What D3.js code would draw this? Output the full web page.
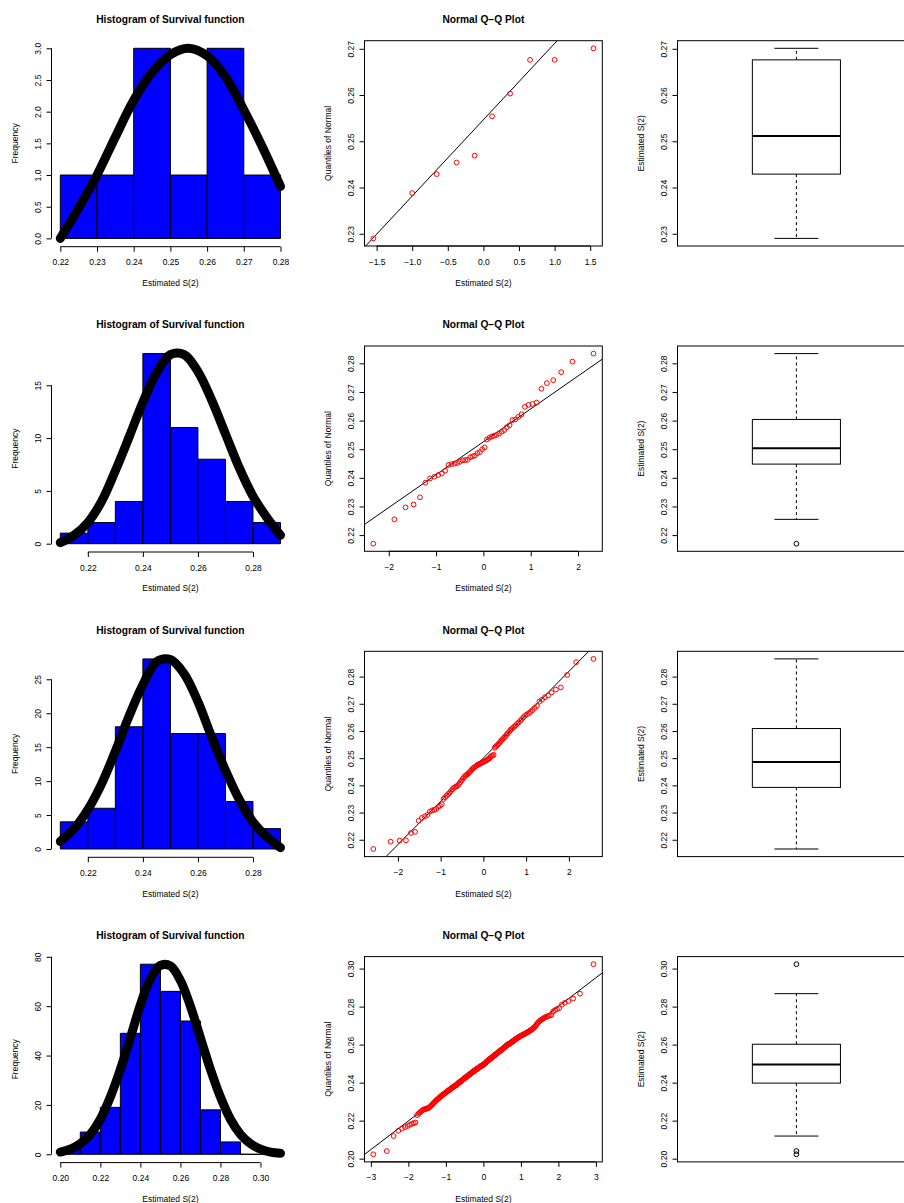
<!DOCTYPE html>
<html>
<head>
<meta charset="utf-8">
<script src="https://cdn.jsdelivr.net/npm/d3@7"></script>
<style>
  body { margin: 0; background: #fff; }
  text { font-family: "Liberation Sans", Arial, Helvetica, sans-serif; fill: #000; }
</style>
</head>
<body>
<div id="chart"></div>
<script>
// ---- data ----
// sorted samples (estimated S(2)), one per row: n = 10, 50, 100, 300
const sample10 = [0.2290, 0.2388, 0.2429, 0.2454, 0.2469, 0.2554, 0.2603, 0.2676, 0.2676, 0.2701];

const sample50 = [
  0.2170, 0.2255, 0.2297, 0.2307, 0.2332, 0.2383, 0.2398, 0.2404, 0.2410, 0.2415,
  0.2425, 0.2445, 0.2448, 0.2450, 0.2452, 0.2456, 0.2461, 0.2462, 0.2463, 0.2472,
  0.2475, 0.2478, 0.2486, 0.2490, 0.2500, 0.2506, 0.2534, 0.2540, 0.2544, 0.2547,
  0.2550, 0.2555, 0.2561, 0.2567, 0.2577, 0.2584, 0.2602, 0.2604, 0.2613, 0.2622,
  0.2648, 0.2655, 0.2658, 0.2663, 0.2711, 0.2731, 0.2741, 0.2769, 0.2806, 0.2834];

const sample100 = [
  0.2166, 0.2193, 0.2197, 0.2198, 0.2225, 0.2229, 0.2270, 0.2280, 0.2286, 0.2291,
  0.2303, 0.2308, 0.2310, 0.2313, 0.2321, 0.2325, 0.2331, 0.2350, 0.2356, 0.2362,
  0.2368, 0.2373, 0.2380, 0.2386, 0.2391, 0.2394, 0.2397, 0.2399, 0.2406, 0.2412,
  0.2418, 0.2424, 0.2430, 0.2435, 0.2438, 0.2441, 0.2445, 0.2449, 0.2454, 0.2459,
  0.2463, 0.2466, 0.2469, 0.2472, 0.2475, 0.2477, 0.2479, 0.2481, 0.2483, 0.2485,
  0.2487, 0.2489, 0.2491, 0.2494, 0.2497, 0.2499, 0.2505, 0.2508, 0.2510, 0.2512,
  0.2538, 0.2543, 0.2547, 0.2551, 0.2556, 0.2561, 0.2566, 0.2570, 0.2575, 0.2580,
  0.2586, 0.2591, 0.2596, 0.2603, 0.2607, 0.2611, 0.2616, 0.2621, 0.2626, 0.2631,
  0.2637, 0.2643, 0.2650, 0.2656, 0.2661, 0.2665, 0.2670, 0.2677, 0.2685, 0.2692,
  0.2708, 0.2715, 0.2724, 0.2730, 0.2742, 0.2752, 0.2760, 0.2806, 0.2853, 0.2865];

const sample300 = [
  0.2023, 0.2040, 0.2119, 0.2147, 0.2158, 0.2166, 0.2172, 0.2178, 0.2183, 0.2187,
  0.2190, 0.2229, 0.2236, 0.2243, 0.2249, 0.2254, 0.2258, 0.2260, 0.2262, 0.2263,
  0.2265, 0.2267, 0.2270, 0.2274, 0.2278, 0.2283, 0.2287, 0.2291, 0.2295, 0.2299,
  0.2304, 0.2307, 0.2310, 0.2313, 0.2316, 0.2319, 0.2322, 0.2325, 0.2328, 0.2331,
  0.2333, 0.2335, 0.2337, 0.2339, 0.2342, 0.2344, 0.2346, 0.2348, 0.2350, 0.2352,
  0.2354, 0.2356, 0.2358, 0.2360, 0.2362, 0.2364, 0.2365, 0.2367, 0.2369, 0.2371,
  0.2373, 0.2374, 0.2376, 0.2378, 0.2379, 0.2381, 0.2382, 0.2384, 0.2385, 0.2386,
  0.2388, 0.2389, 0.2391, 0.2393, 0.2396, 0.2399, 0.2399, 0.2400, 0.2400, 0.2403,
  0.2405, 0.2406, 0.2408, 0.2409, 0.2411, 0.2412, 0.2414, 0.2415, 0.2417, 0.2419,
  0.2420, 0.2422, 0.2423, 0.2425, 0.2426, 0.2427, 0.2429, 0.2430, 0.2432, 0.2433,
  0.2435, 0.2436, 0.2437, 0.2439, 0.2440, 0.2441, 0.2443, 0.2444, 0.2445, 0.2447,
  0.2448, 0.2449, 0.2451, 0.2452, 0.2453, 0.2455, 0.2456, 0.2457, 0.2459, 0.2460,
  0.2461, 0.2462, 0.2464, 0.2465, 0.2466, 0.2467, 0.2469, 0.2470, 0.2471, 0.2472,
  0.2473, 0.2474, 0.2475, 0.2477, 0.2478, 0.2479, 0.2480, 0.2481, 0.2482, 0.2484,
  0.2485, 0.2486, 0.2487, 0.2488, 0.2489, 0.2490, 0.2491, 0.2492, 0.2493, 0.2494,
  0.2496, 0.2497, 0.2498, 0.2499, 0.2500, 0.2500, 0.2503, 0.2505, 0.2507, 0.2509,
  0.2510, 0.2512, 0.2513, 0.2514, 0.2516, 0.2517, 0.2518, 0.2520, 0.2521, 0.2523,
  0.2524, 0.2525, 0.2527, 0.2528, 0.2529, 0.2531, 0.2532, 0.2533, 0.2535, 0.2536,
  0.2538, 0.2539, 0.2540, 0.2542, 0.2543, 0.2544, 0.2546, 0.2547, 0.2549, 0.2550,
  0.2551, 0.2553, 0.2554, 0.2556, 0.2557, 0.2558, 0.2560, 0.2561, 0.2563, 0.2564,
  0.2565, 0.2567, 0.2568, 0.2570, 0.2571, 0.2573, 0.2574, 0.2576, 0.2577, 0.2579,
  0.2580, 0.2582, 0.2583, 0.2585, 0.2586, 0.2588, 0.2590, 0.2591, 0.2593, 0.2595,
  0.2597, 0.2599, 0.2601, 0.2601, 0.2601, 0.2603, 0.2604, 0.2606, 0.2607, 0.2609,
  0.2610, 0.2612, 0.2614, 0.2615, 0.2617, 0.2618, 0.2620, 0.2622, 0.2623, 0.2625,
  0.2627, 0.2628, 0.2630, 0.2632, 0.2633, 0.2635, 0.2637, 0.2638, 0.2640, 0.2642,
  0.2643, 0.2645, 0.2646, 0.2648, 0.2649, 0.2651, 0.2652, 0.2654, 0.2655, 0.2657,
  0.2658, 0.2660, 0.2662, 0.2664, 0.2666, 0.2668, 0.2670, 0.2672, 0.2675, 0.2677,
  0.2680, 0.2683, 0.2686, 0.2690, 0.2694, 0.2698, 0.2706, 0.2712, 0.2717, 0.2722,
  0.2726, 0.2730, 0.2734, 0.2738, 0.2742, 0.2745, 0.2748, 0.2751, 0.2753, 0.2755,
  0.2774, 0.2781, 0.2787, 0.2792, 0.2810, 0.2820, 0.2829, 0.2842, 0.2868, 0.3023];

// histogram breaks and counts
const breaks10 = [0.22, 0.23, 0.24, 0.25, 0.26, 0.27, 0.28];
const counts10 = [1, 1, 3, 1, 3, 1];
const breaks50 = [0.21, 0.22, 0.23, 0.24, 0.25, 0.26, 0.27, 0.28, 0.29];
const counts50 = [1, 2, 4, 18, 11, 8, 4, 2];
const breaks100 = [0.21, 0.22, 0.23, 0.24, 0.25, 0.26, 0.27, 0.28, 0.29];
const counts100 = [4, 6, 18, 28, 17, 17, 7, 3];
const breaks300 = [0.20, 0.21, 0.22, 0.23, 0.24, 0.25, 0.26, 0.27, 0.28, 0.29, 0.30, 0.31];
const counts300 = [2, 9, 19, 49, 77, 66, 54, 18, 5, 0, 1];

// the thick fitted curve over each histogram
const curveX10 = [0.220, 0.225, 0.230, 0.235, 0.240, 0.245, 0.250, 0.255, 0.260, 0.265, 0.270, 0.275, 0.280];
const curveY10 = [0.00, 0.48, 1.00, 1.60, 2.18, 2.62, 2.90, 3.00, 2.88, 2.55, 2.03, 1.45, 0.82];
const curveX50 = [0.210, 0.215, 0.220, 0.225, 0.230, 0.235, 0.240, 0.245, 0.250, 0.255, 0.260, 0.265, 0.270, 0.275, 0.280, 0.285, 0.290];
const curveY50 = [0.1, 0.8, 2.0, 4.0, 6.9, 10.1, 13.4, 16.2, 17.9, 17.9, 16.3, 13.6, 10.4, 7.2, 4.5, 2.5, 0.8];
const curveX100 = [0.210, 0.215, 0.220, 0.225, 0.230, 0.235, 0.240, 0.245, 0.250, 0.255, 0.260, 0.265, 0.270, 0.275, 0.280, 0.285, 0.290];
const curveY100 = [1.1, 3.0, 5.8, 9.6, 14.4, 19.6, 24.2, 27.6, 27.9, 25.8, 21.7, 16.5, 11.6, 7.3, 4.0, 1.8, 0.2];
const curveX300 = [0.200, 0.205, 0.210, 0.215, 0.220, 0.225, 0.230, 0.235, 0.240, 0.245, 0.250, 0.255,
                   0.260, 0.265, 0.270, 0.275, 0.280, 0.285, 0.290, 0.295, 0.300, 0.305, 0.310];
const curveY300 = [0.9, 2.1, 4.3, 8.1, 14.2, 23.2, 34.4, 47.2, 60.5, 71.0, 76.5, 76.3,
                   70.4, 60.0, 47.2, 34.4, 23.2, 14.2, 8.1, 4.3, 2.1, 0.9, 0.4];

// tick labels
const histXTicks10 = ['0.22', '0.23', '0.24', '0.25', '0.26', '0.27', '0.28'];
const histYTicks10 = ['0.0', '0.5', '1.0', '1.5', '2.0', '2.5', '3.0'];
const histXTicks50 = ['0.22', '0.24', '0.26', '0.28'];
const histYTicks50 = ['0', '5', '10', '15'];
const histXTicks100 = ['0.22', '0.24', '0.26', '0.28'];
const histYTicks100 = ['0', '5', '10', '15', '20', '25'];
const histXTicks300 = ['0.20', '0.22', '0.24', '0.26', '0.28', '0.30'];
const histYTicks300 = ['0', '20', '40', '60', '80'];

const qqXTicks10 = ['\u22121.5', '\u22121.0', '\u22120.5', '0.0', '0.5', '1.0', '1.5'];
const qqXTicks50 = ['\u22122', '\u22121', '0', '1', '2'];
const qqXTicks100 = ['\u22122', '\u22121', '0', '1', '2'];
const qqXTicks300 = ['\u22123', '\u22122', '\u22121', '0', '1', '2', '3'];
const valTicks10 = ['0.23', '0.24', '0.25', '0.26', '0.27'];
const valTicks50 = ['0.22', '0.23', '0.24', '0.25', '0.26', '0.27', '0.28'];
const valTicks100 = ['0.22', '0.23', '0.24', '0.25', '0.26', '0.27', '0.28'];
const valTicks300 = ['0.20', '0.22', '0.24', '0.26', '0.28', '0.30'];

const rows = [
  { sample: sample10, breaks: breaks10, counts: counts10, cx: curveX10, cy: curveY10,
    hx: histXTicks10, hy: histYTicks10, qx: qqXTicks10, vy: valTicks10 },
  { sample: sample50, breaks: breaks50, counts: counts50, cx: curveX50, cy: curveY50,
    hx: histXTicks50, hy: histYTicks50, qx: qqXTicks50, vy: valTicks50 },
  { sample: sample100, breaks: breaks100, counts: counts100, cx: curveX100, cy: curveY100,
    hx: histXTicks100, hy: histYTicks100, qx: qqXTicks100, vy: valTicks100 },
  { sample: sample300, breaks: breaks300, counts: counts300, cx: curveX300, cy: curveY300,
    hx: histXTicks300, hy: histYTicks300, qx: qqXTicks300, vy: valTicks300 }
];

// ---- layout ----
const width = 904;
const height = 1203;
const panelW = 313;
const panelH = 305.3;
const plot = { left: 51.5, right: 289.3, top: 40.7, bottom: 246 };
const midX = (plot.left + plot.right) / 2;
const midY = (plot.top + plot.bottom) / 2;
const labSize = 8.5;
const mainSize = 10.2;

const svg = d3.select('#chart').append('svg').attr('width', width).attr('height', height);

// R style: 4% padding on each side of the data range
function expand(d) {
  const r = d[1] - d[0];
  return [d[0] - 0.04 * r, d[1] + 0.04 * r];
}
const num = (s) => +s.replace('\u2212', '-');

// inverse normal cdf (Acklam)
function qnorm(p) {
  const a = [-39.69683028665376, 220.9460984245205, -275.9285104469687, 138.357751867269, -30.66479806614716, 2.506628277459239];
  const b = [-54.47609879822406, 161.5858368580409, -155.6989798598866, 66.80131188771972, -13.28068155288572];
  const c = [-0.007784894002430293, -0.3223964580411365, -2.400758277161838, -2.549732539343734, 4.374664141464968, 2.938163982698783];
  const d = [0.007784695709041462, 0.3224671290700398, 2.445134137142996, 3.754408661907416];
  const lo = 0.02425;
  let q, r;
  if (p < lo) {
    q = Math.sqrt(-2 * Math.log(p));
    return (((((c[0] * q + c[1]) * q + c[2]) * q + c[3]) * q + c[4]) * q + c[5]) / ((((d[0] * q + d[1]) * q + d[2]) * q + d[3]) * q + 1);
  }
  if (p > 1 - lo) {
    q = Math.sqrt(-2 * Math.log(1 - p));
    return -(((((c[0] * q + c[1]) * q + c[2]) * q + c[3]) * q + c[4]) * q + c[5]) / ((((d[0] * q + d[1]) * q + d[2]) * q + d[3]) * q + 1);
  }
  q = p - 0.5;
  r = q * q;
  return (((((a[0] * r + a[1]) * r + a[2]) * r + a[3]) * r + a[4]) * r + a[5]) * q / (((((b[0] * r + b[1]) * r + b[2]) * r + b[3]) * r + b[4]) * r + 1);
}

// R's ppoints
function ppoints(n) {
  const a = n <= 10 ? 3 / 8 : 1 / 2;
  return d3.range(1, n + 1).map((i) => (i - a) / (n + 1 - 2 * a));
}

// R's boxplot.stats (Tukey hinges, 1.5 IQR whiskers)
function boxStats(x) {
  const n = x.length;
  const n4 = Math.floor((n + 3) / 2) / 2;
  const pos = [1, n4, (n + 1) / 2, n + 1 - n4, n];
  const f = pos.map((p) => 0.5 * (x[Math.floor(p) - 1] + x[Math.ceil(p) - 1]));
  const iqr = f[3] - f[1];
  const inside = x.filter((v) => v >= f[1] - 1.5 * iqr && v <= f[3] + 1.5 * iqr);
  return {
    lo: d3.min(inside), q1: f[1], med: f[2], q3: f[3], hi: d3.max(inside),
    out: x.filter((v) => v < f[1] - 1.5 * iqr || v > f[3] + 1.5 * iqr)
  };
}

function bottomAxis(g, scale, labels, y) {
  const ticks = labels.map(num);
  const ax = g.append('g')
    .attr('transform', `translate(0,${y})`)
    .call(d3.axisBottom(scale).tickValues(ticks).tickFormat((d, i) => labels[i]).tickSize(5).tickSizeOuter(0));
  ax.attr('font-family', null).attr('font-size', labSize);
  ax.select('.domain').attr('d', `M${scale(ticks[0])},0H${scale(ticks[ticks.length - 1])}`);
  ax.selectAll('text').attr('y', 18.5).attr('dy', null);
}

function leftAxis(g, scale, labels) {
  const ticks = labels.map(num);
  const ax = g.append('g')
    .attr('transform', `translate(${plot.left},0)`)
    .call(d3.axisLeft(scale).tickValues(ticks).tickFormat((d, i) => labels[i]).tickSize(5).tickSizeOuter(0));
  ax.attr('font-family', null).attr('font-size', labSize);
  ax.select('.domain').attr('d', `M0,${scale(ticks[0])}V${scale(ticks[ticks.length - 1])}`);
  ax.selectAll('text')
    .attr('x', 0).attr('dy', null)
    .attr('text-anchor', 'middle')
    .attr('transform', 'translate(-11,0) rotate(-90)');
}

function labels(g, main, xlab, ylab) {
  if (main) {
    g.append('text').text(main)
      .attr('x', midX).attr('y', 23)
      .attr('text-anchor', 'middle')
      .style('font-size', mainSize + 'px').style('font-weight', 'bold');
  }
  if (xlab) {
    g.append('text').text(xlab)
      .attr('x', midX).attr('y', 286)
      .attr('text-anchor', 'middle')
      .style('font-size', labSize + 'px');
  }
  g.append('text').text(ylab)
    .attr('transform', `translate(17.7,${midY}) rotate(-90)`)
    .attr('text-anchor', 'middle')
    .style('font-size', labSize + 'px');
}

function drawHist(g, row) {
  const b = row.breaks;
  const x = d3.scaleLinear().domain(expand([b[0], b[b.length - 1]])).range([plot.left, plot.right]);
  const y = d3.scaleLinear().domain(expand([0, d3.max(row.counts)])).range([plot.bottom, plot.top]);

  g.selectAll('.bar')
    .data(row.counts)
    .enter()
    .append('path')
    .attr('class', 'bar')
    .attr('d', (d, i) => `M${x(b[i])},${y(0)}V${y(d)}H${x(b[i + 1])}V${y(0)}Z`)
    .attr('fill', '#0000ff')
    .attr('stroke', '#000')
    .attr('stroke-width', 1);

  const line = d3.line()
    .x((d, i) => x(row.cx[i]))
    .y((d) => y(d))
    .curve(d3.curveCatmullRom);
  g.append('path')
    .attr('d', line(row.cy))
    .attr('fill', 'none')
    .attr('stroke', '#000')
    .attr('stroke-width', 9)
    .attr('stroke-linecap', 'round')
    .attr('stroke-linejoin', 'round');

  bottomAxis(g, x, row.hx, plot.bottom + 0.7);
  leftAxis(g, y, row.hy);
  labels(g, 'Histogram of Survival function', 'Estimated S(2)', 'Frequency');
}

function drawQQ(g, row, clipId) {
  const s = row.sample;
  const theo = ppoints(s.length).map(qnorm);
  const x = d3.scaleLinear().domain(expand(d3.extent(theo))).range([plot.left, plot.right]);
  const y = d3.scaleLinear().domain(expand(d3.extent(s))).range([plot.bottom, plot.top]);

  // qqline through the quartiles
  const y1 = d3.quantileSorted(s, 0.25);
  const y2 = d3.quantileSorted(s, 0.75);
  const slope = (y2 - y1) / (qnorm(0.75) - qnorm(0.25));
  const intercept = y1 - slope * qnorm(0.25);
  const xd = x.domain();

  g.append('clipPath').attr('id', clipId)
    .append('rect')
    .attr('x', plot.left).attr('y', plot.top)
    .attr('width', plot.right - plot.left).attr('height', plot.bottom - plot.top);

  g.append('line')
    .attr('clip-path', `url(#${clipId})`)
    .attr('x1', x(xd[0])).attr('y1', y(intercept + slope * xd[0]))
    .attr('x2', x(xd[1])).attr('y2', y(intercept + slope * xd[1]))
    .attr('stroke', '#000').attr('stroke-width', 1);

  g.selectAll('.pt')
    .data(s)
    .enter()
    .append('circle')
    .attr('class', 'pt')
    .attr('cx', (d, i) => x(theo[i]))
    .attr('cy', (d) => y(d))
    .attr('r', 2.4)
    .attr('fill', 'none')
    .attr('stroke', '#ff0000')
    .attr('stroke-width', 1);

  g.append('rect')
    .attr('x', plot.left).attr('y', plot.top)
    .attr('width', plot.right - plot.left).attr('height', plot.bottom - plot.top)
    .attr('fill', 'none').attr('stroke', '#000').attr('stroke-width', 1);

  bottomAxis(g, x, row.qx, plot.bottom);
  leftAxis(g, y, row.vy);
  labels(g, 'Normal Q\u2212Q Plot', 'Estimated S(2)', 'Quantiles of Normal');
}

function drawBox(g, row) {
  const s = row.sample;
  const st = boxStats(s);
  const x = d3.scaleLinear().domain(expand([0.5, 1.5])).range([plot.left, plot.right]);
  const y = d3.scaleLinear().domain(expand(d3.extent(s))).range([plot.bottom, plot.top]);

  // whiskers
  g.selectAll('.whisker')
    .data([[st.q3, st.hi], [st.q1, st.lo]])
    .enter()
    .append('line')
    .attr('class', 'whisker')
    .attr('x1', x(1)).attr('x2', x(1))
    .attr('y1', (d) => y(d[0])).attr('y2', (d) => y(d[1]))
    .attr('stroke', '#000').attr('stroke-dasharray', '3,3');
  g.selectAll('.staple')
    .data([st.hi, st.lo])
    .enter()
    .append('line')
    .attr('class', 'staple')
    .attr('x1', x(0.9)).attr('x2', x(1.1))
    .attr('y1', (d) => y(d)).attr('y2', (d) => y(d))
    .attr('stroke', '#000');

  g.append('rect')
    .attr('x', x(0.8)).attr('width', x(1.2) - x(0.8))
    .attr('y', y(st.q3)).attr('height', y(st.q1) - y(st.q3))
    .attr('fill', '#fff').attr('stroke', '#000');
  g.append('line')
    .attr('x1', x(0.8)).attr('x2', x(1.2))
    .attr('y1', y(st.med)).attr('y2', y(st.med))
    .attr('stroke', '#000').attr('stroke-width', 2);

  g.selectAll('.out')
    .data(st.out)
    .enter()
    .append('circle')
    .attr('class', 'out')
    .attr('cx', x(1)).attr('cy', (d) => y(d))
    .attr('r', 2.4)
    .attr('fill', 'none').attr('stroke', '#000');

  g.append('rect')
    .attr('x', plot.left).attr('y', plot.top)
    .attr('width', plot.right - plot.left).attr('height', plot.bottom - plot.top)
    .attr('fill', 'none').attr('stroke', '#000').attr('stroke-width', 1);

  leftAxis(g, y, row.vy);
  labels(g, null, null, 'Estimated S(2)');
}

rows.forEach((row, r) => {
  const top = r * panelH;
  drawHist(svg.append('g').attr('transform', `translate(0,${top})`), row);
  drawQQ(svg.append('g').attr('transform', `translate(${panelW},${top})`), row, 'qqclip' + r);
  drawBox(svg.append('g').attr('transform', `translate(${2 * panelW},${top})`), row);
});
</script>
</body>
</html>
